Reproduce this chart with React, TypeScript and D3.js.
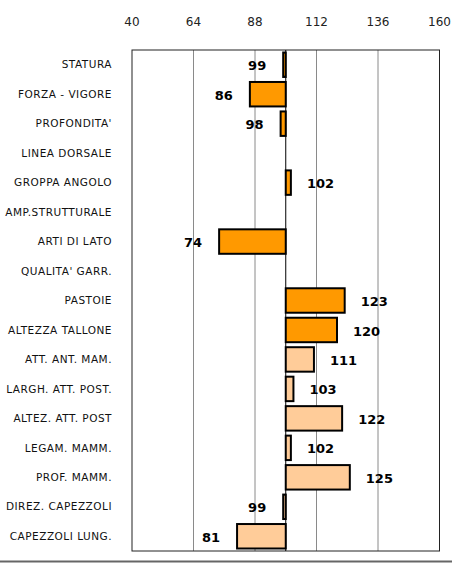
import React from "react";
import * as d3 from "d3";

const categories = [
  "STATURA",
  "FORZA - VIGORE",
  "PROFONDITA'",
  "LINEA DORSALE",
  "GROPPA ANGOLO",
  "AMP.STRUTTURALE",
  "ARTI DI  LATO",
  "QUALITA' GARR.",
  "PASTOIE",
  "ALTEZZA TALLONE",
  "ATT. ANT. MAM.",
  "LARGH. ATT. POST.",
  "ALTEZ. ATT. POST",
  "LEGAM. MAMM.",
  "PROF. MAMM.",
  "DIREZ. CAPEZZOLI",
  "CAPEZZOLI LUNG.",
];
const values: (number | null)[] = [99, 86, 98, null, 102, null, 74, null, 123, 120, 111, 103, 122, 102, 125, 99, 81];
const groups = [0, 0, 0, 0, 0, 0, 0, 0, 0, 0, 1, 1, 1, 1, 1, 1, 1];
const tickValues = [40, 64, 88, 112, 136, 160];
const baseValue = 100;
const groupColors = ["#FF9900", "#FFCC99"];

export default function App() {
  const W = 452, H = 563;
  const left = 132, right = 439.5, top = 50, bottom = 551;
  const x = d3.scaleLinear().domain([40, 160]).range([left, right]);
  const y = d3.scaleBand<string>().domain(categories).range([top, bottom]).paddingInner(0.17).paddingOuter(0.085);
  const font = "'Comic Sans MS', 'DejaVu Sans', sans-serif";
  return (
    <svg width={W} height={H} style={{ position: "absolute", left: 0, top: 0, background: "#fff" }}>
      {tickValues.map((t) => (
        <text key={"t" + t} x={x(t)} y={26} textAnchor="middle" fontFamily="'DejaVu Sans', sans-serif" fontSize={12} fill="#222">
          {t}
        </text>
      ))}
      {tickValues.slice(1, -1).map((t) => (
        <line key={"g" + t} x1={x(t)} x2={x(t)} y1={top} y2={bottom} stroke="#8a8a8a" strokeWidth={1} />
      ))}
      <rect x={left} y={top} width={right - left} height={bottom - top} fill="none" stroke="#222" strokeWidth={1} />
      <line x1={x(baseValue)} x2={x(baseValue)} y1={top} y2={bottom} stroke="#000" strokeWidth={1} />
      {categories.map((c, i) => (
        <text key={"c" + i} x={112} y={(y(c) as number) + y.bandwidth() / 2} dy="0.35em" textAnchor="end" fontFamily={font} fontSize={10.5} letterSpacing={0.5} fill="#111">
          {c}
        </text>
      ))}
      {categories.map((c, i) => {
        const v = values[i];
        if (v == null) return null;
        const x0 = x(Math.min(v, baseValue));
        const x1 = x(Math.max(v, baseValue));
        const yy = y(c) as number;
        const pos = v >= baseValue;
        return (
          <g key={"b" + i}>
            <rect x={x0} y={yy} width={x1 - x0} height={y.bandwidth()} fill={groupColors[groups[i]]} stroke="#000" strokeWidth={2} />
            <text
              x={pos ? x1 + 16 : x0 - 17}
              y={yy + y.bandwidth() / 2 + 1}
              dy="0.35em"
              textAnchor={pos ? "start" : "end"}
              fontFamily="'DejaVu Sans', sans-serif"
              fontWeight="bold"
              fontSize={13}
              fill="#000"
            >
              {v}
            </text>
          </g>
        );
      })}
      <line x1={0} x2={W} y1={561.5} y2={561.5} stroke="#666" strokeWidth={2} />
    </svg>
  );
}
